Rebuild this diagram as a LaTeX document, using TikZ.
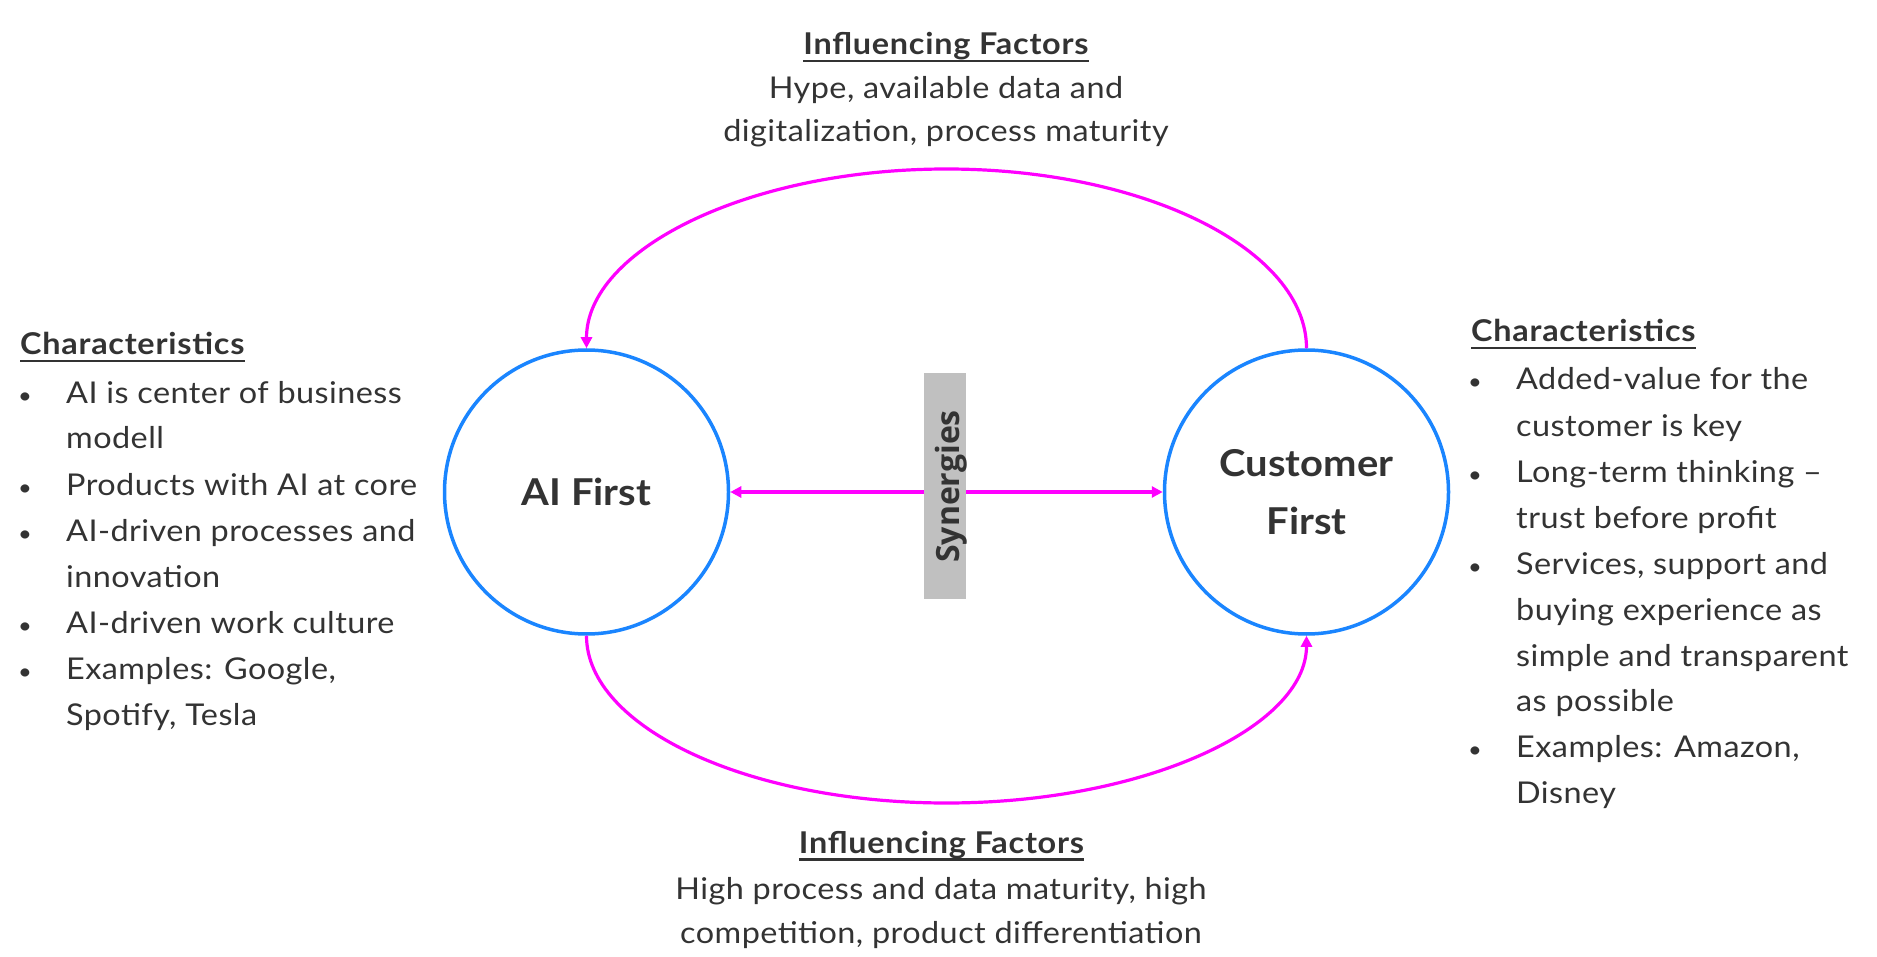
\documentclass[tikz,border=0pt]{standalone}
\usepackage{fontspec}
\setmainfont{Lato}[FakeStretch=1.08, LetterSpace=1.5]
\newfontfamily\bigfont{Lato}[FakeStretch=1.08]
\newfontfamily\synfont{Open Sans}
\usetikzlibrary{arrows.meta}
\definecolor{txtc}{HTML}{333333}
\definecolor{mag}{HTML}{FF00FF}
\definecolor{cblue}{HTML}{1A85FF}
\definecolor{boxgray}{HTML}{C0C0C0}
\newcommand{\ulx}[1]{\setbox0=\hbox{#1}\rlap{\rule[-7.5pt]{\wd0}{2.5pt}}\box0}
\begin{document}
\begin{tikzpicture}[x=1pt,y=1pt,
  txt/.style={inner sep=0pt, text=txtc, font=\fontsize{30}{36}\selectfont},
  ttl/.style={inner sep=0pt, text=txtc, font=\fontsize{30}{36}\selectfont\bfseries\addfontfeatures{LetterSpace=2.5}},
  ln/.style={txt, anchor=base west},
  ctr/.style={txt, anchor=base},
  bl/.style={inner sep=0pt, text=txtc, font=\fontsize{22}{26}\selectfont, anchor=base},
  bigc/.style={circle, draw=cblue, line width=3.5pt, minimum size=284pt, inner sep=0pt,
    text=txtc, align=center, font=\bigfont\fontsize{37}{58}\selectfont\bfseries},
  marrow/.style={draw=mag, line width=3.2pt, -{Triangle[length=11pt,width=11pt]}}
]
\useasboundingbox (0,0) rectangle (1877,-957);

% main circles
\node[bigc] (ai) at (586.5,-492) {AI First};
\node[bigc] (cf) at (1306.5,-492) {Customer\\First};

% synergies
\node[fill=boxgray, minimum width=42pt, minimum height=226pt, inner sep=0pt] (synbox) at (945,-486) {};
\node[rotate=90, anchor=base, inner sep=0pt, text=txtc,
  font=\synfont\fontsize{32}{38}\selectfont\bfseries] (syn) at (959,-486.5) {Synergies};
\draw[marrow] (synbox.west |- ai.east) -- (ai.east);
\draw[marrow] (synbox.east |- cf.west) -- (cf.west);

% arcs
\coordinate (toppeak) at (946.5,-169);
\coordinate (botpeak) at (946.5,-803);
\draw[marrow] (cf.north) .. controls (1306.5,-250) and (1145.6,-169) .. (toppeak)
  .. controls (747.4,-169) and (586.5,-250) .. (ai.north);
\draw[marrow] (ai.south) .. controls (586.5,-727) and (747.4,-803) .. (botpeak)
  .. controls (1145.6,-803) and (1306.5,-727) .. (cf.south);

% top text
\node[ttl, anchor=base] (th) at (946,-55) {\ulx{Influencing Factors}};
\node[ctr] (t1) at (946,-99) {Hype, available data and};
\node[ctr] (t2) at (946,-142) {digitalization, process maturity};

% bottom text
\node[ttl, anchor=base] (bh) at (941.5,-853) {\ulx{Influencing Factors}};
\node[ctr] (b1) at (941,-899) {High process and data maturity, high};
\node[ctr] (b2) at (941,-943) {competition, product differentiation};

% left block
\node[ttl, anchor=base west] (lh) at (20,-355) {\ulx{Characteristics}};
\node[bl] (lb1) at (25,-403) {•};
\node[bl] (lb2) at (25,-495) {•};
\node[bl] (lb3) at (25,-541) {•};
\node[bl] (lb4) at (25,-633) {•};
\node[bl] (lb5) at (25,-679) {•};
\node[ln] (l1) at (66,-403) {AI is center of business};
\node[ln] (l2) at (66,-449) {modell};
\node[ln] (l3) at (66,-495) {Products with AI at core};
\node[ln] (l4) at (66,-541) {AI-driven processes and};
\node[ln] (l5) at (66,-587) {innovation};
\node[ln] (l6) at (66,-633) {AI-driven work culture};
\node[ln] (l7) at (66,-679) {Examples: Google,};
\node[ln] (l8) at (66,-725) {Spotify, Tesla};

% right block
\node[ttl, anchor=base west] (rh) at (1471,-342) {\ulx{Characteristics}};
\node[bl] (rb1) at (1475,-390) {•};
\node[bl] (rb2) at (1475,-482) {•};
\node[bl] (rb3) at (1475,-574) {•};
\node[bl] (rb4) at (1475,-757) {•};
\node[ln] (r1) at (1516,-390) {Added-value for the};
\node[ln] (r2) at (1516,-436) {customer is key};
\node[ln] (r3) at (1516,-482) {Long-term thinking –};
\node[ln] (r4) at (1516,-528) {trust before profit};
\node[ln] (r5) at (1516,-574) {Services, support and};
\node[ln] (r6) at (1516,-620) {buying experience as};
\node[ln] (r7) at (1516,-666) {simple and transparent};
\node[ln] (r8) at (1516,-711) {as possible};
\node[ln] (r9) at (1516,-757) {Examples: Amazon,};
\node[ln] (r10) at (1516,-803) {Disney};
\end{tikzpicture}
\end{document}
